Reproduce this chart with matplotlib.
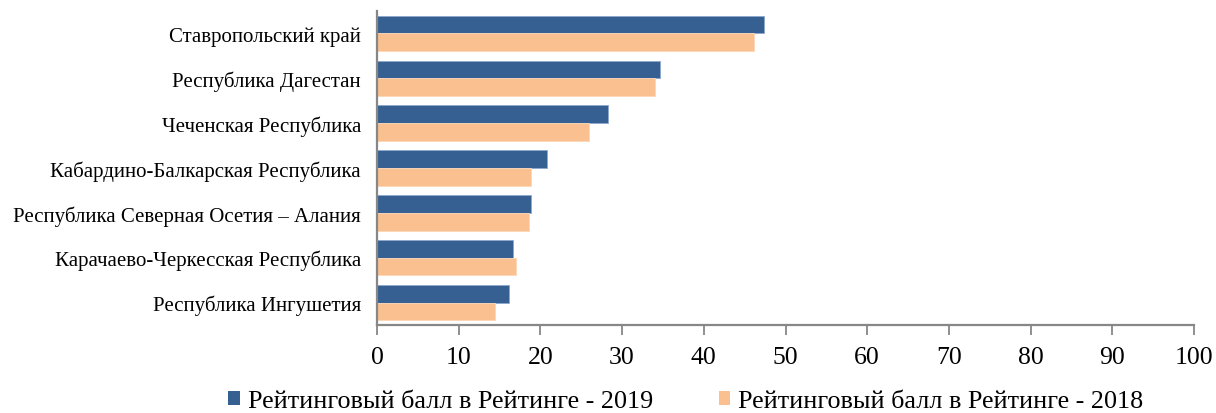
import matplotlib
matplotlib.use("Agg")
import matplotlib.pyplot as plt
from matplotlib.patches import Patch
import numpy as np

categories = [
    "Ставропольский край",
    "Республика Дагестан",
    "Чеченская Республика",
    "Кабардино-Балкарская Республика",
    "Республика Северная Осетия – Алания",
    "Карачаево-Черкесская Республика",
    "Республика Ингушетия",
]
values_2019 = [47.4, 34.7, 28.3, 20.8, 18.8, 16.7, 16.2]
values_2018 = [46.2, 34.0, 26.0, 18.9, 18.6, 17.0, 14.4]
series_labels = ["Рейтинговый балл в Рейтинге - 2019", "Рейтинговый балл в Рейтинге - 2018"]
xticks = list(range(0, 101, 10))

c2019 = "#366092"
c2018 = "#FAC090"

plt.rcParams["font.family"] = ["Liberation Serif", "DejaVu Serif"]

fig = plt.figure(figsize=(12.16, 4.14), dpi=100)
ax = fig.add_axes([377/1216, 1 - 326/414, (1194 - 377)/1216, (326 - 12)/414])

y = np.arange(len(categories))
h = 0.394
ax.barh(y - h/2, values_2019, height=h, color=c2019, edgecolor="#8EA9CF", linewidth=0.6)
ax.barh(y + h/2, values_2018, height=h, color=c2018, edgecolor="#FBD7B8", linewidth=0.6)

ax.set_ylim(6.5, -0.5)
ax.set_xlim(0, 100)
ax.set_xticks(xticks)
ax.set_xticklabels([str(t) for t in xticks], fontsize=18.5)
ax.set_yticks(y)
ax.set_yticklabels(categories, fontsize=15)
ax.tick_params(axis="y", length=0, pad=11.5)
ax.tick_params(axis="x", length=7, width=1.3, color="#878787", pad=8)

for s in ["top", "right"]:
    ax.spines[s].set_visible(False)
for s in ["left", "bottom"]:
    ax.spines[s].set_color("#878787")
    ax.spines[s].set_linewidth(1.6)

handles = [Patch(facecolor=c2019), Patch(facecolor=c2018)]
fig.legend(handles, series_labels, loc="center", bbox_to_anchor=(0.564, 0.028), ncol=2,
           frameon=False, fontsize=18.8, handlelength=0.45, handleheight=0.45,
           handletextpad=0.3, columnspacing=2.5, borderaxespad=0, borderpad=0)

fig.savefig("out.png", dpi=100)
